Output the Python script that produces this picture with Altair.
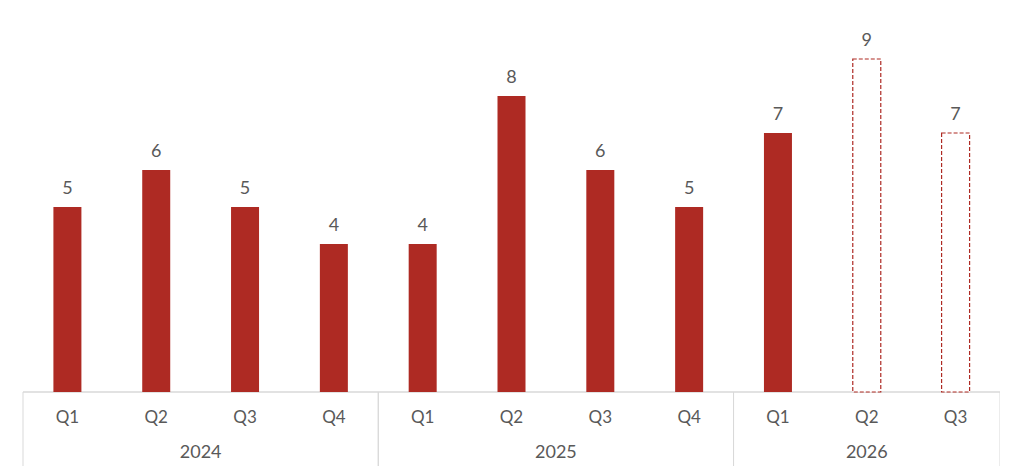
import altair as alt
import pandas as pd

years = ["2024", "2024", "2024", "2024", "2025", "2025", "2025", "2025", "2026", "2026", "2026"]
quarters = ["Q1", "Q2", "Q3", "Q4", "Q1", "Q2", "Q3", "Q4", "Q1", "Q2", "Q3"]
values = [5, 6, 5, 4, 4, 8, 6, 5, 7, 9, 7]
forecast = [False, False, False, False, False, False, False, False, False, True, True]

df = pd.DataFrame({
    "idx": list(range(len(values))),
    "year": years,
    "quarter": quarters,
    "value": values,
    "forecast": forecast,
})

RED = "#AE2A23"
GRID = "#D9D9D9"
TXT = "#595959"
FONT = "Lato"
W, H = 977, 370

xs = alt.Scale(domain=[-0.5, 10.5], nice=False, zero=False, padding=0)
x = alt.X("idx:Q", scale=xs, axis=None)
y = alt.Y("value:Q", scale=alt.Scale(domain=[0, 10], nice=False), axis=None)

base = alt.Chart(df)

solid = base.transform_filter("!datum.forecast").mark_bar(
    size=28, orient="vertical", color=RED
).encode(x=x, y=y)

dashed = base.transform_filter("datum.forecast").mark_bar(
    size=28, orient="vertical", fill="white", stroke=RED, strokeWidth=1.2, strokeDash=[4, 2]
).encode(x=x, y=y)

labels = base.mark_text(
    dy=-13, baseline="alphabetic", fontSize=18, font=FONT, color=TXT
).encode(x=x, y=y, text="value:Q")

qlabels = base.mark_text(
    baseline="middle", fontSize=17, font=FONT, color=TXT
).encode(x=x, y=alt.value(H + 26), text="quarter:N")

years_base = base.transform_aggregate(
    lo="min(idx)", hi="max(idx)", mid="mean(idx)", groupby=["year"]
)

ylabels = years_base.mark_text(
    baseline="middle", fontSize=18, font=FONT, color=TXT
).encode(x=alt.X("mid:Q", scale=xs, axis=None), y=alt.value(H + 61), text="year:N")

div_lo = years_base.transform_calculate(pos="datum.lo - 0.5").mark_rule(
    color=GRID, strokeWidth=1
).encode(x=alt.X("pos:Q", scale=xs, axis=None), y=alt.value(H), y2=alt.value(H + 74))

div_hi = years_base.transform_calculate(pos="datum.hi + 0.5").mark_rule(
    color=GRID, strokeWidth=1
).encode(x=alt.X("pos:Q", scale=xs, axis=None), y=alt.value(H), y2=alt.value(H + 74))

topline = alt.Chart(pd.DataFrame({"a": [0]})).mark_rule(color=GRID, strokeWidth=1.5).encode(
    x=alt.value(0), x2=alt.value(W), y=alt.value(H)
)

chart = alt.layer(
    div_lo, div_hi, topline, solid, dashed, labels, qlabels, ylabels
).properties(
    width=W, height=H,
    autosize=alt.AutoSizeParams(type="none"),
    padding={"left": 15, "top": 14, "right": 0, "bottom": 74},
).configure(background="white").configure_view(stroke=None)

chart.save("out.html", embed_options={"renderer": "svg", "actions": False})
